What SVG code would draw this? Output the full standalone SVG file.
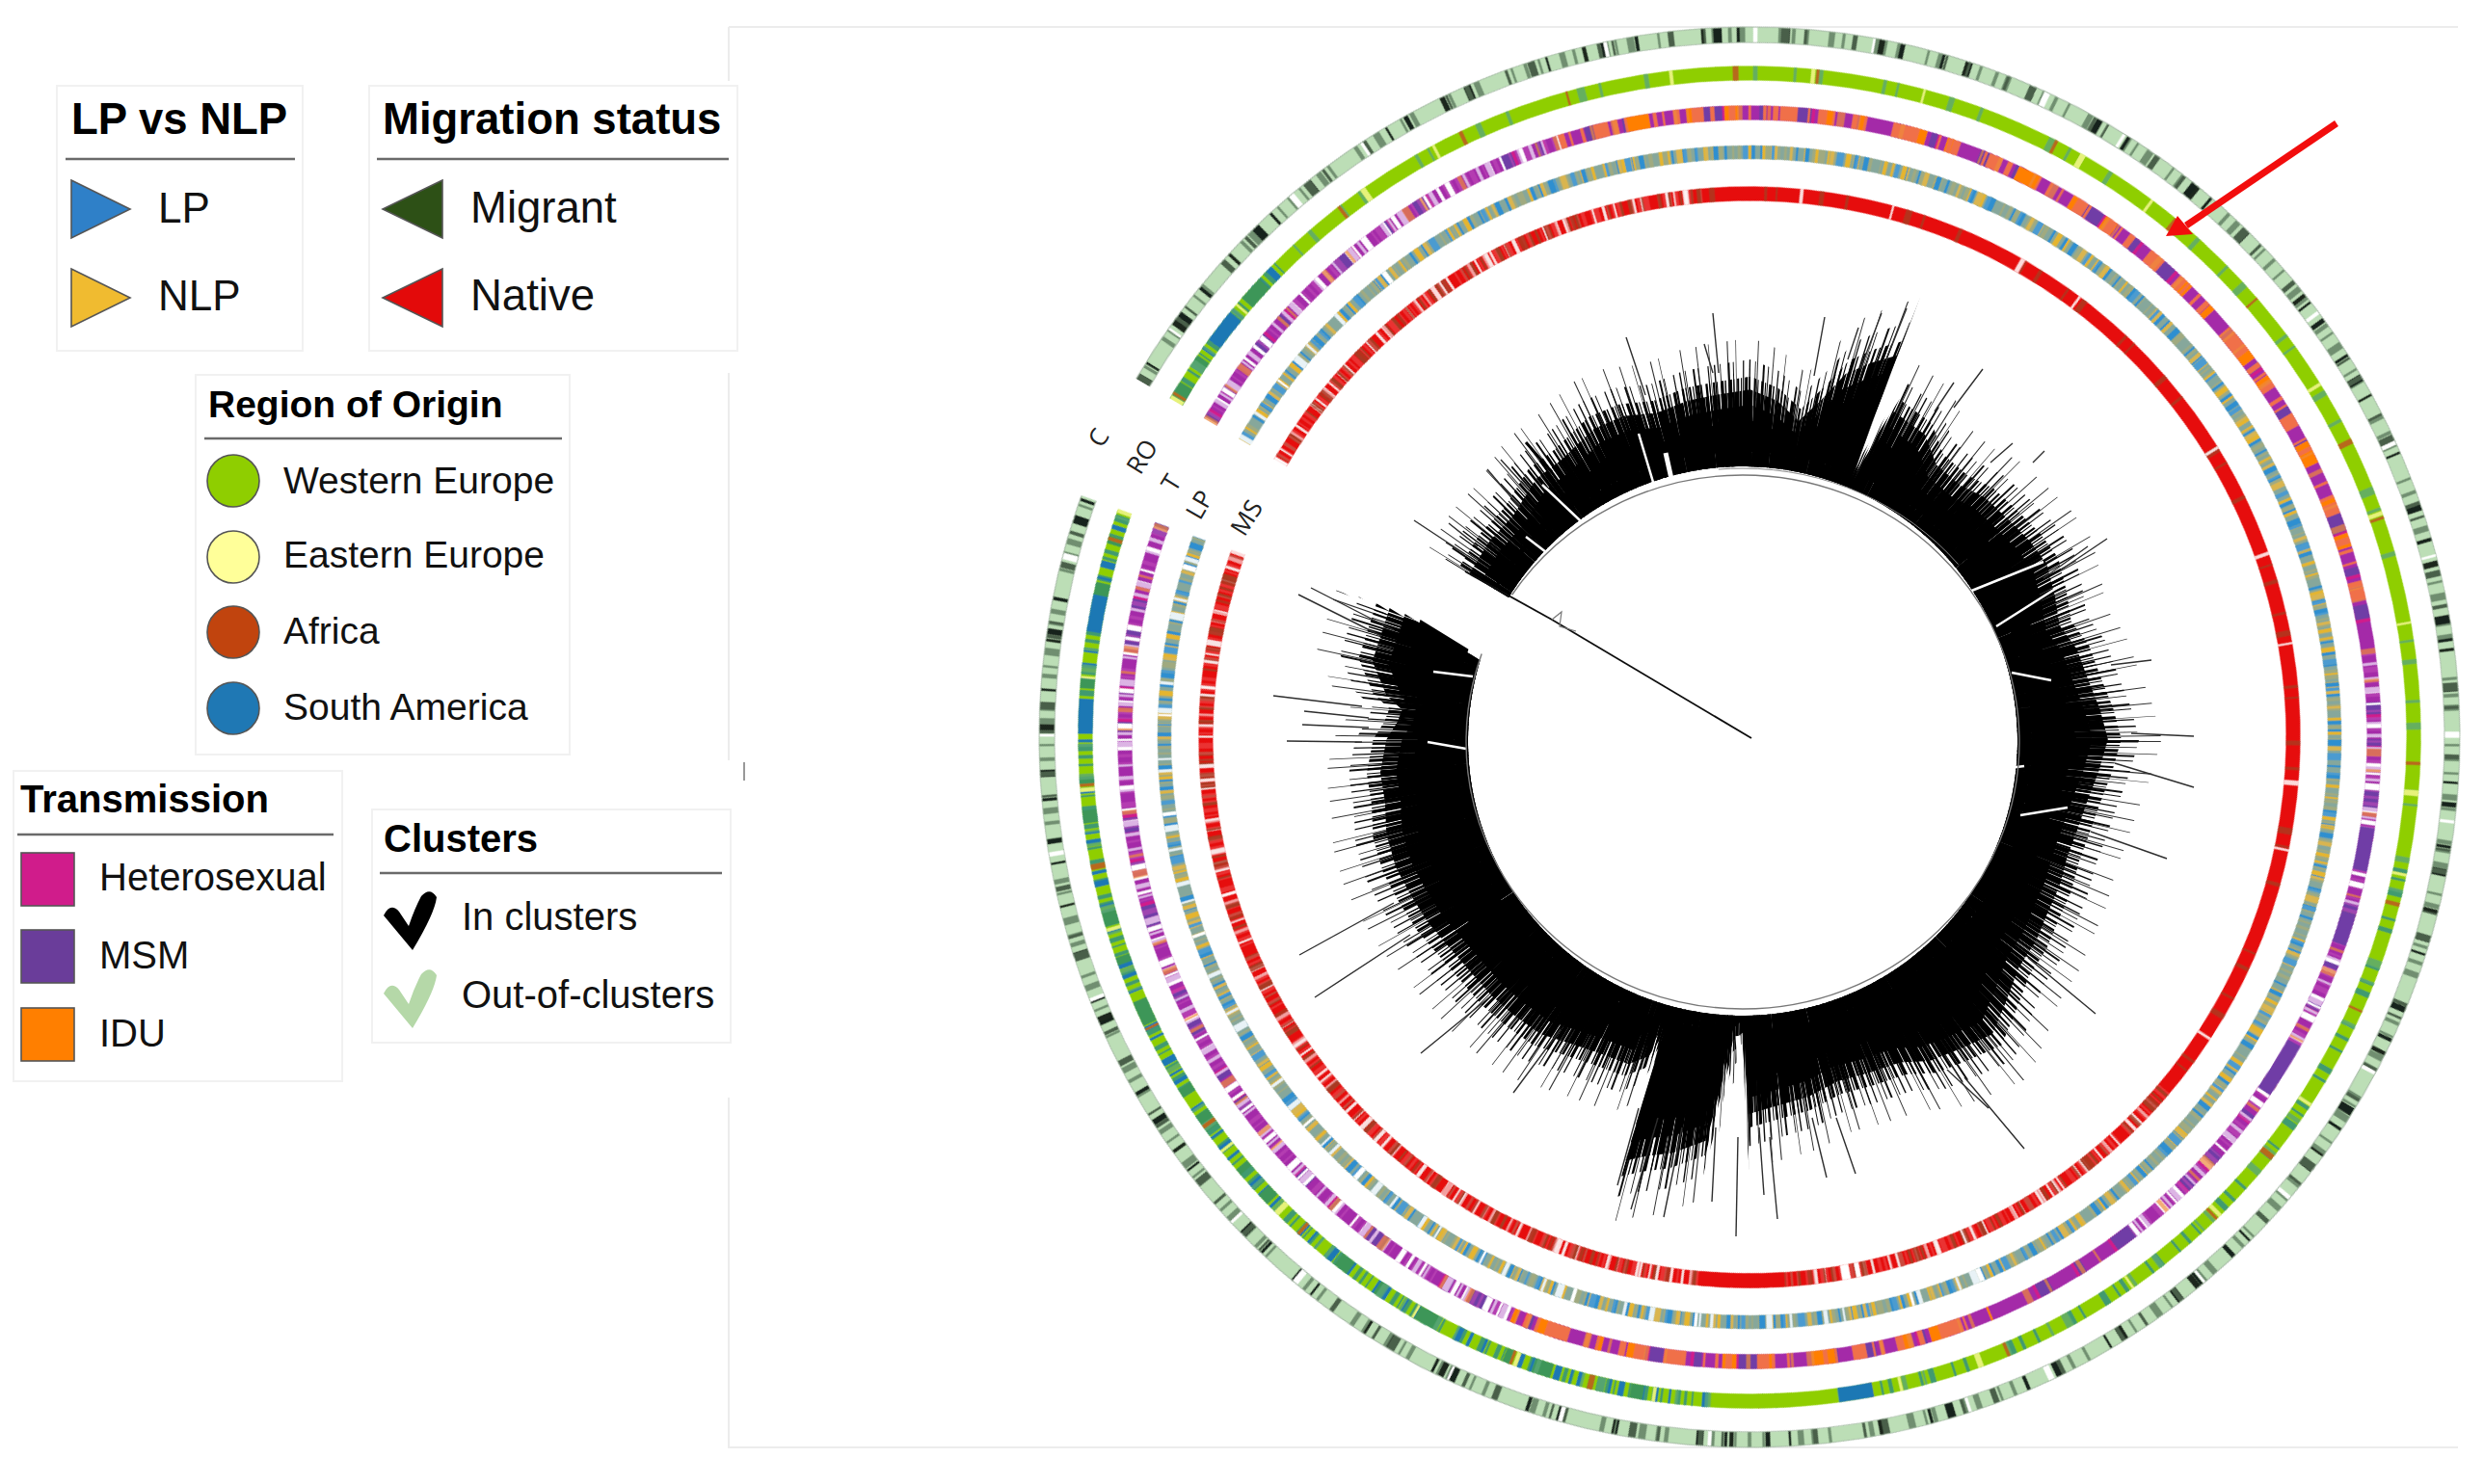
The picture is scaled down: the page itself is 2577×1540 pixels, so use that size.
<svg xmlns="http://www.w3.org/2000/svg" xmlns:xlink="http://www.w3.org/1999/xlink" width="2577" height="1540" viewBox="0 0 2577 1540">
<style>
text{font-family:"Liberation Sans",Arial,sans-serif;fill:#111}
.ti{font-weight:700;fill:#000}
.box{fill:#fff;stroke:#f1f1f1;stroke-width:2}
.rule{stroke:#6a6a6a;stroke-width:2.4;fill:none}
.mk{stroke:#555;stroke-width:1.6}
.lb{font-family:"Open Sans","DejaVu Sans",sans-serif;font-size:26px;fill:#222}
.ring circle{fill:none;cx:0;cy:0}
.p1{stroke-dasharray:.4 3.1 .25 1.7 .6 5.2 .3 .9 .2 4.4 .5 2.3 .3 6.1 .7 1.2 .25 3.7 .4 7.3 .2 1.5}
.p2{stroke-dasharray:.3 .9 .2 1.6 .5 .6 .25 2.4 .35 .5 .2 .8 .6 1.9 .2 .7 .4 3.1 .25 1.1 .3 .6 .5 2.7 .2 .9}
.p3{stroke-dasharray:.2 .35 .3 .5 .15 .3 .4 .6 .2 .25 .5 .8 .15 .4 .25 .3 .35 1.2 .2 .45 .3 .35 .6 .9}
.p4{stroke-dasharray:.35 9.4 .2 14.3 .5 6.7 .25 21.1 .3 11.9}
.p5{stroke-dasharray:1.1 2.3 .6 4.1 1.6 1.9 .8 6.2 2.2 3.4 .7 2.8 1.3 7.7}
.band{fill:none}
</style>
<defs>
<filter id="soft"><feGaussianBlur stdDeviation="0.7"/></filter>
<filter id="softer"><feGaussianBlur stdDeviation="0.5"/></filter>
<mask id="mMsW" maskUnits="userSpaceOnUse" x="-800" y="-800" width="1600" height="1600"><circle r="650" fill="none" stroke="#fff" stroke-width="220" pathLength="360" stroke-dasharray="55 135 160 10"/></mask>
<mask id="mRoB" maskUnits="userSpaceOnUse" x="-800" y="-800" width="1600" height="1600"><circle r="650" fill="none" stroke="#fff" stroke-width="220" pathLength="360" stroke-dasharray="15 228 107 10"/></mask>
<mask id="mRoC" maskUnits="userSpaceOnUse" x="-800" y="-800" width="1600" height="1600"><circle r="650" fill="none" stroke="#fff" stroke-width="220" pathLength="360" stroke-dasharray="0 160 69 131"/></mask>
<mask id="mTO" maskUnits="userSpaceOnUse" x="-800" y="-800" width="1600" height="1600"><circle r="650" fill="none" stroke="#fff" stroke-width="220" pathLength="360" stroke-dasharray="0 42 95 80 45 98"/></mask>
<mask id="mTW" maskUnits="userSpaceOnUse" x="-800" y="-800" width="1600" height="1600"><circle r="650" fill="none" stroke="#fff" stroke-width="220" pathLength="360" stroke-dasharray="42 100 60 60 88 10"/></mask>
<mask id="mLW" maskUnits="userSpaceOnUse" x="-800" y="-800" width="1600" height="1600"><circle r="650" fill="none" stroke="#fff" stroke-width="220" pathLength="360" stroke-dasharray="22 190 138 10"/></mask>
<polygon id="env" points="1102,467.5 925,361 938,340 953,324 968,300 984,288 1005,268 1024,260 1045,258 1065,250 1085,246 1105,243 1122,250 1136,263 1150,250 1166,233 1182,226 1199,221 1170,300 1197,257 1217,272 1224,291 1239,304 1255,312 1270,326 1284,340 1295,355 1300,375 1303,394 1314,409 1321,428 1329,448 1334,467 1328,488 1321,506 1314,526 1308,542 1303,561 1295,579 1288,596 1277,613 1268,637 1260,656 1240,665 1220,673 1201,674 1180,681 1161,686 1142,696 1121,702 1104,707 1100,655 1094,660 1077,724 1055,732 1038,734 1025,737 1050,655 1040,670 1027,675 1008,668 990,662 971,656 954,644 939,631 925,615 912,600 899,585 887,566 878,549 872,528 871,507 868,488 872,467 879,456 882,448 872,439 863,417 874,383 929,417"/>
<clipPath id="e0"><use href="#env" transform="translate(1811 768) scale(1.48) translate(-1102 -467.5)"/></clipPath>
<clipPath id="e1"><use href="#env" transform="translate(1811 768) scale(1.55) translate(-1102 -467.5)"/></clipPath>
<clipPath id="e2"><use href="#env" transform="translate(1811 768) scale(1.62) translate(-1102 -467.5)"/></clipPath>
<clipPath id="e3"><use href="#env" transform="translate(1811 768) scale(1.68) translate(-1102 -467.5)"/></clipPath>
<clipPath id="e4"><use href="#env" transform="translate(1811 768) scale(1.76) translate(-1102 -467.5)"/></clipPath>
<clipPath id="e5"><use href="#env" transform="translate(1811 768) scale(1.86) translate(-1102 -467.5)"/></clipPath>
<path id="chk" d="M398 950Q405 936 414 946L424 961Q430 943 437 930Q446 920 453 931Q451 948 428 986Z"/>
</defs>
<rect width="2577" height="1540" fill="#fff"/>
<g id="frame" fill="none" stroke="#ececec" stroke-width="2">
<path d="M756 28H2550M756 28V84M756 387V789M756 1139V1502H2550"/>
<path d="M772 791V810" stroke="#999" stroke-width="2"/>
</g>

<g id="rings" transform="translate(1815 765) rotate(-149.7)" filter="url(#soft)">
<g id="ring-C" class="ring" stroke-width="16">
<circle r="729" stroke="#bcdeb6"/>
<circle r="729" class="p2" pathLength="360" stroke="#6f8e6f" style="stroke-dashoffset:3"/>
<circle r="729" class="p1" pathLength="360" stroke="#18241a" style="stroke-dashoffset:11"/>
<circle r="729" class="p1" pathLength="360" stroke="#4a5f4a" style="stroke-dashoffset:47"/>
<circle r="729" class="p4" pathLength="360" stroke="#1c281c" style="stroke-dashoffset:19"/>
<circle r="729" class="p4" pathLength="360" stroke="#fff" style="stroke-dashoffset:5"/>
<circle r="737" stroke="#a4b8a4" stroke-width="1"/>
<circle r="721" stroke="#a4b8a4" stroke-width="1"/>
</g>
<g id="ring-RO" class="ring" stroke-width="15">
<circle r="689" stroke="#8fce00"/>
<g mask="url(#mRoB)"><circle r="689" class="p3" pathLength="360" stroke="#3f9a70"/><circle r="689" class="p2" pathLength="360" stroke="#1f78b4" style="stroke-dashoffset:17"/><circle r="689" class="p5" pathLength="360" stroke="#3c9658" style="stroke-dashoffset:8"/></g>
<g mask="url(#mRoC)"><circle r="689" class="p2" pathLength="360" stroke="#3f9a70"/></g>
<circle r="689" class="p1" pathLength="360" stroke="#5aa875" opacity=".8" style="stroke-dashoffset:23"/>
<circle r="689" class="p4" pathLength="360" stroke="#e6f27a"/>
<circle r="689" class="p4" pathLength="360" stroke="#b7691a" style="stroke-dashoffset:31"/>
<circle r="689" pathLength="360" stroke="#8fce00" stroke-dasharray="0 236 7 117"/>
<circle r="689" pathLength="360" stroke="#1f78b4" stroke-dasharray="0 6 3 220 3 98 3 6 3 18"/>
</g>
<g id="ring-T" class="ring" stroke-width="15">
<circle r="648" stroke="#a42aa8"/>
<circle r="648" class="p5" pathLength="360" stroke="#d01c8b"/>
<circle r="648" class="p5" pathLength="360" stroke="#6f3da6" style="stroke-dashoffset:37"/>
<g mask="url(#mTO)"><circle r="648" class="p5" pathLength="360" stroke="#ff7f00" style="stroke-dashoffset:7"/><circle r="648" class="p2" pathLength="360" stroke="#f0704a"/><circle r="648" class="p5" pathLength="360" stroke="#f0704a" style="stroke-dashoffset:19"/></g>
<g mask="url(#mTW)"><circle r="648" class="p3" pathLength="360" stroke="#c04ab8" opacity=".6"/><circle r="648" class="p2" pathLength="360" stroke="#fff" style="stroke-dashoffset:9"/><circle r="648" class="p2" pathLength="360" stroke="#dcb4e4" style="stroke-dashoffset:27"/></g>
<circle r="648" class="p1" pathLength="360" stroke="#ee8a3a" opacity=".7"/>
<circle r="648" pathLength="360" stroke="#6f3da6" stroke-dasharray="0 158 4 4 3 10 5 176"/>
</g>
<g id="ring-LP" class="ring" stroke-width="14">
<circle r="607" stroke="#86a79b"/>
<circle r="607" class="p3" pathLength="360" stroke="#a0aa80" style="stroke-dashoffset:2"/>
<circle r="607" class="p2" pathLength="360" stroke="#e5b52f"/>
<circle r="607" class="p2" pathLength="360" stroke="#2f8fd0" style="stroke-dashoffset:13"/>
<circle r="607" class="p1" pathLength="360" stroke="#d9b550" style="stroke-dashoffset:6"/>
<circle r="607" class="p1" pathLength="360" stroke="#4b9bd0" style="stroke-dashoffset:41"/>
<g mask="url(#mLW)"><circle r="607" class="p4" pathLength="360" stroke="#fff" style="stroke-dashoffset:3"/><circle r="607" class="p1" pathLength="360" stroke="#e8f2f6" style="stroke-dashoffset:17"/></g>
</g>
<g id="ring-MS" class="ring" stroke-width="15">
<circle r="564" stroke="#e60d0d"/>
<g mask="url(#mMsW)"><circle r="564" class="p2" pathLength="360" stroke="#f7e4e4"/><circle r="564" class="p2" pathLength="360" stroke="#a93a22" style="stroke-dashoffset:15"/><circle r="564" class="p3" pathLength="360" stroke="#ee5a5a" opacity=".5"/></g>
<circle r="564" class="p1" pathLength="360" stroke="#a93a22" opacity=".8" style="stroke-dashoffset:33"/>
<circle r="564" class="p4" pathLength="360" stroke="#fff" opacity=".85"/>
<circle r="564" pathLength="360" stroke="#e60d0d" stroke-dasharray="0 236 9 115"/>
<circle r="564" pathLength="360" stroke="#fff" stroke-dasharray="0 228 .5 .6 .9 130"/>
</g>
<circle r="650" fill="none" stroke="#fff" stroke-width="240" pathLength="360" stroke-dasharray="10.4 349.6" transform="rotate(349.6)"/>
</g>

<g id="tree" filter="url(#softer)">
<g fill="none">
<g clip-path="url(#e5)"><circle class="band" cx="1808" cy="769" r="400" stroke="#333" stroke-width="230" pathLength="360" stroke-dasharray=".14 1.7 .1 2.6 .16 1.1 .1 3.2 .14 2.2"/></g>
<g clip-path="url(#e4)"><circle class="band" cx="1808" cy="769" r="400" stroke="#111" stroke-width="230" pathLength="360" stroke-dasharray=".2 .7 .12 1.1 .28 .5 .14 1.4 .18 .8"/></g>
<g clip-path="url(#e3)"><circle class="band" cx="1808" cy="769" r="400" stroke="#000" stroke-width="230" pathLength="360" stroke-dasharray=".3 .3 .16 .5 .44 .22 .2 .6 .34 .26 .14 .44"/></g>
<g clip-path="url(#e2)"><circle class="band" cx="1808" cy="769" r="400" stroke="#000" stroke-width="230" pathLength="360" stroke-dasharray=".7 .12 .4 .2 1 .1 .5 .26 .3 .1"/></g>
<g clip-path="url(#e1)"><circle class="band" cx="1808" cy="769" r="400" stroke="#000" stroke-width="230" pathLength="360" stroke-dasharray="1.6 .08 .9 .12 2.2 .06 1.2 .1"/></g>
<g clip-path="url(#e0)"><circle class="band" cx="1808" cy="769" r="406" stroke="#000" stroke-width="212" pathLength="360"/></g>
<g clip-path="url(#e1)"><circle class="band" cx="1808" cy="769" r="292" stroke="#000" stroke-width="14" pathLength="360" stroke-dasharray=".5 .3 .9 .2 .3 .5 1.3 .4 .7 .6"/></g>
</g>
<path fill="none" stroke="#fff" stroke-width="2.5" d="M1700 450L1720 517M1583 557L1630 593M1600 503L1657 557M1487 697L1528 702M1481 770L1521 777M2038 616L2120 583M2087 698L2128 706M2071 650L2137 608M2096 846L2145 838M1580 600L1600 620M2060 800L2100 795"/>
<path fill="none" stroke="#fff" stroke-width="5" d="M1728 470L1738 515M1803 1075L1807 1140"/>
<path fill="none" stroke="#2e2e2e" stroke-width="1.4" d="M1777 325L1783 387M1687 350L1707 410M1893 329L1882 390M1952 325L1930 383M1978 320L1957 373M1928 340L1917 373M1768 357L1777 387M1543 487L1577 527M1557 477L1587 510M1500 563L1533 583M1503 543L1533 567M2057 383L2027 423M2027 397L2007 427M2088 460L2065 480M2121 468L2109 480M2276 764L2211 761M2276 817L2194 792M2248 891L2169 863M2174 1052L2104 994M2100 1192L2038 1118M2063 1150L2020 1110M1348 991L1446 937M1364 1035L1463 970M1474 1093L1545 1035M1570 1134L1619 1068M1321 722L1413 733M1335 769L1413 770M1351 752L1420 755M1353 738L1420 745M1360 610L1446 654M1347 617L1433 660M2232 685L2190 690M2186 559L2137 592M2166 567L2120 600M1801 1283L1803 1180M1726 1263L1745 1170M1692 1255L1720 1160M1776 1247L1780 1170M1830 1240L1825 1170M1895 1222L1880 1160M1925 1218L1905 1160M1678 1230L1700 1150M1844 1265L1836 1180M1467 540L1520 575"/>
<path fill="none" stroke="#000" stroke-width="3" d="M1583 459L1610 490"/>
<path fill="none" stroke="#111" stroke-width="1.8" d="M1817 766L1610 643L1520 593"/>
<path fill="none" stroke="#777" stroke-width="1.2" d="M1610 643L1620 635L1618 650L1635 655"/>
<ellipse cx="1808" cy="770" rx="287" ry="277" fill="none" stroke="#777" stroke-width="1.4" pathLength="360" stroke-dasharray="199 14 147"/>
<ellipse cx="1808" cy="770" rx="294" ry="284" fill="none" stroke="#888" stroke-width="1" pathLength="360" stroke-dasharray="0 265 55 40"/>
</g>

<g id="labels">
<text class="lb" transform="translate(1143 466) rotate(-58)">C</text>
<text class="lb" transform="translate(1183 494) rotate(-58)">RO</text>
<text class="lb" transform="translate(1219 512) rotate(-58)">T</text>
<text class="lb" transform="translate(1245 541) rotate(-60)">LP</text>
<text class="lb" transform="translate(1291 558) rotate(-58)">MS</text>
</g>

<g id="arrow">
<path d="M2424 128L2268 234" fill="none" stroke="#f20d0d" stroke-width="7"/>
<polygon points="2247,245 2259,224 2275,243" fill="#f20d0d"/>
</g>

<g id="legend-lp">
<rect class="box" x="59" y="89" width="255" height="275"/>
<text class="ti" x="74" y="139" font-size="45.5">LP vs NLP</text>
<path class="rule" d="M68 165H306"/>
<polygon class="mk" points="74,187 135,217 74,247" fill="#2f80c8"/>
<text x="164" y="231" font-size="44">LP</text>
<polygon class="mk" points="74,279 135,309 74,339" fill="#f0bb30"/>
<text x="164" y="322" font-size="44">NLP</text>
</g>
<g id="legend-migration">
<rect class="box" x="383" y="89" width="382" height="275"/>
<text class="ti" x="397" y="139" font-size="45.5">Migration status</text>
<path class="rule" d="M391 165H756"/>
<polygon class="mk" points="459,187 397,217 459,247" fill="#2d5016"/>
<text x="488" y="231" font-size="45.5">Migrant</text>
<polygon class="mk" points="459,279 397,309 459,339" fill="#e30a0a"/>
<text x="488" y="322" font-size="45.5">Native</text>
</g>
<g id="legend-region">
<rect class="box" x="203" y="389" width="388" height="394"/>
<text class="ti" x="216" y="433" font-size="39">Region of Origin</text>
<path class="rule" d="M212 455H583"/>
<circle class="mk" cx="242" cy="499" r="27" fill="#8fce00"/>
<text x="294" y="512" font-size="39">Western Europe</text>
<circle class="mk" cx="242" cy="578" r="27" fill="#ffff99"/>
<text x="294" y="589" font-size="39">Eastern Europe</text>
<circle class="mk" cx="242" cy="656" r="27" fill="#c1440e"/>
<text x="294" y="668" font-size="39">Africa</text>
<circle class="mk" cx="242" cy="735" r="27" fill="#1f78b4"/>
<text x="294" y="747" font-size="39">South America</text>
</g>
<g id="legend-transmission">
<rect class="box" x="14" y="800" width="341" height="322"/>
<text class="ti" x="21" y="843" font-size="40">Transmission</text>
<path class="rule" d="M18 866H346"/>
<rect class="mk" x="22" y="885" width="55" height="55" fill="#d01c8b"/>
<text x="103" y="924" font-size="40">Heterosexual</text>
<rect class="mk" x="22" y="965" width="55" height="55" fill="#6a3d9a"/>
<text x="103" y="1005" font-size="40">MSM</text>
<rect class="mk" x="22" y="1046" width="55" height="55" fill="#ff7f00"/>
<text x="103" y="1086" font-size="40">IDU</text>
</g>
<g id="legend-clusters">
<rect class="box" x="386" y="840" width="372" height="242"/>
<text class="ti" x="398" y="884" font-size="40">Clusters</text>
<path class="rule" d="M394 906H749"/>
<use href="#chk" fill="#000"/>
<text x="479" y="965" font-size="40">In clusters</text>
<use href="#chk" fill="#b5d8a8" y="81"/>
<text x="479" y="1046" font-size="40">Out-of-clusters</text>
</g>
</svg>
